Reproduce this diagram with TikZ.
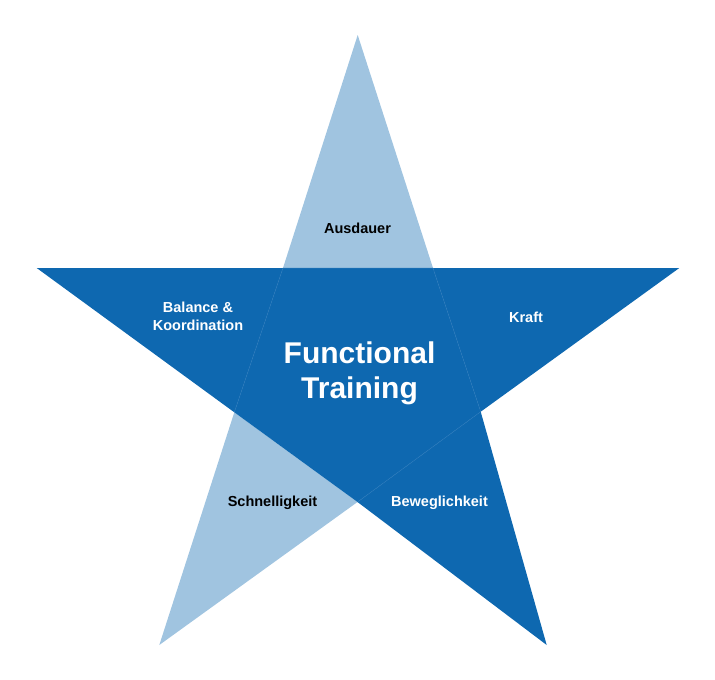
\documentclass[tikz,border=0pt]{standalone}
\usepackage{fontspec}
\setmainfont{Liberation Sans}
\usetikzlibrary{positioning}
\definecolor{darkblue}{RGB}{14,104,176}
\definecolor{lightblue}{RGB}{160,196,224}
\definecolor{seamblue}{RGB}{40,120,186}

\begin{document}
\begin{tikzpicture}[x=1pt,y=-1pt]
\tikzstyle{every node}+=[inner sep=0pt, align=center, font=\fontsize{14.5}{17.5}\bfseries\selectfont]
\tikzstyle{title}=[font=\fontsize{30}{35}\bfseries\selectfont, text=white]
\tikzstyle{onlight}=[text=black]
\tikzstyle{ondark}=[text=white]
\useasboundingbox (0,0) rectangle (715,680);
% outer points
\coordinate (ptop) at (357.7,35);
\coordinate (pleft) at (36.7,268);
\coordinate (pright) at (679.3,268);
\coordinate (pbl) at (159.3,645);
\coordinate (pbr) at (546.7,645);
% inner pentagon
\coordinate (itl) at (283,268);
\coordinate (itr) at (433,268);
\coordinate (ir) at (480.7,411.7);
\coordinate (ib) at (357.5,502);
\coordinate (il) at (234.3,412.3);
% arms
\fill [lightblue] (ptop) -- (itr) -- (itl) -- cycle;
\fill [darkblue] (pleft) -- (itl) -- (il) -- cycle;
\fill [darkblue] (pright) -- (itr) -- (ir) -- cycle;
\fill [lightblue] (pbl) -- (il) -- (ib) -- cycle;
\fill [darkblue] (pbr) -- (ir) -- (ib) -- cycle;
\fill [darkblue] (itl) -- (itr) -- (ir) -- (ib) -- (il) -- cycle;
% seams
\draw [seamblue, line width=0.5pt] (itl) -- (itr) -- (ir) -- (ib);
\draw [seamblue, line width=0.5pt] (il) -- (itl);
% labels
\node [title] (center) at (359.5,373) {Functional\\Training};
\node [onlight] (ausdauer) at (357.5,228) {Ausdauer};
\node [ondark] (balance) at (198,316.5) {Balance \&\\Koordination};
\node [ondark] (kraft) at (526,317) {Kraft};
\node [onlight] (schnell) at (272.5,503) {Schnelligkeit};
\node [ondark] (beweg) at (439.5,503) {Beweglichkeit};
\end{tikzpicture}
\end{document}
